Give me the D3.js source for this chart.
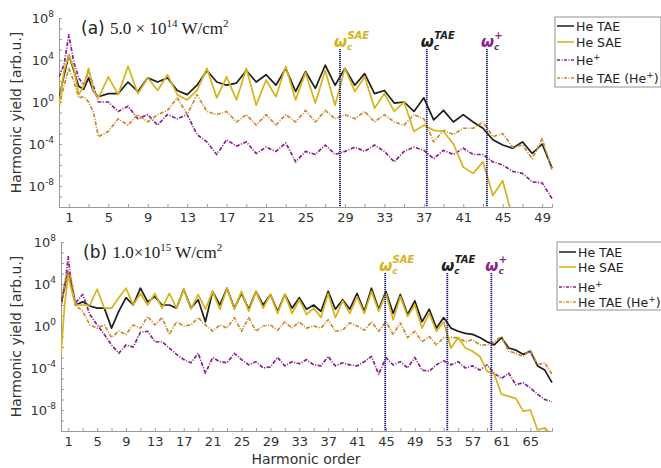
<!DOCTYPE html>
<html>
<head>
<meta charset="utf-8">
<script src="https://cdn.jsdelivr.net/npm/d3@7"></script>
<style>
  body { margin: 0; background: #fff; }
  text { font-family: "DejaVu Sans", sans-serif; fill: #333; }
</style>
</head>
<body>
<div id="chart"></div>
<script>
// harmonic orders where the yield was read (log10 of yield below)
const ordA = [0,0.5,1,1.5,2,2.5,3,3.5,4,5,6,7,8,9,10,11,12,13,14,15,16,17,18,19,20,21,22,23,24,25,26,27,28,29,30,31,32,33,34,35,36,37,38,39,40,41,42,43,44,45,46,47,48,49,50];
const ordB = [0,0.5,1,1.5,2,3,4,5,6,7,8,9,10,11,12,13,14,15,16,17,18,19,20,21,22,23,24,25,26,27,28,29,30,31,32,33,34,35,36,37,38,39,40,41,42,43,44,45,46,47,48,49,50,51,52,53,54,55,56,57,58,59,60,61,62,63,64,65,66,67,68];

// panel (a) 5.0e14 W/cm2
const tae_a = [0.3,2.5,4.5,3.0,1.5,1.2,2.3,1.0, 0.5,0.8,0.8,1.9,1.0,2.3,1.9,2.3,1.1,0.7, 1.6,3.0,1.9,1.6,1.8,3.0,1.9,2.6,1.6,3.2, 1.0,2.9,1.3,3.5,1.6,3.2,1.6,2.7,0.8,1.1, -0.1,0.0,-0.9,0.4,-1.7,-0.8,-1.9,-1.2,-1.9,-2.5, -3.6,-4.1,-4.4,-3.8,-4.9,-4.0,-6.3];
const sae_a = [-0.3,2.9,4.5,3.2,0.7,1.5,3.2,1.0, 0.4,2.4,0.7,3.4,0.8,2.3,1.1,2.6,0.7,0.2, 1.1,3.2,0.4,2.4,0.2,3.2,-0.3,2.1,0.5,3.4, 0.2,2.8,-0.1,3.0,-0.3,3.2,1.0,2.4,-0.6,0.8, -0.9,0.0,-2.8,-2.2,-2.7,-2.8,-4.0,-6.2,-6.8,-5.7, -8.9,-7.5,-11,-12,-12,-12,-12];
const ion_a = [2.4,3.5,6.4,3.8,2.3,1.6,3.0,1.5, 0.0,0.0,-0.9,-0.4,-1.6,-1.2,-2.2,-1.2,-1.6,-1.2, -3.1,-3.8,-5.0,-3.6,-4.2,-3.8,-4.9,-4.3,-4.7,-3.9, -5.7,-4.7,-5.0,-4.1,-5.0,-4.7,-4.3,-4.7,-4.1,-4.7, -5.7,-4.7,-4.3,-4.6,-5.4,-4.6,-5.0,-4.4,-5.0,-5.0, -5.7,-6.0,-6.6,-6.8,-7.6,-7.7,-9.2];
const taeIon_a = [-0.5,1.5,3.2,2.0,0.4,0.5,0.0,-1.0, -3.3,-2.8,-1.6,-2.2,-1.2,-1.9,-1.2,-0.8,0.4,-1.2, 0.7,-0.9,-1.2,-0.9,-1.9,-1.2,-2.2,-1.2,-2.2,-1.2, -1.9,-0.8,-1.9,-0.8,-1.6,-1.2,-1.6,-0.9,-1.9,-1.2, -1.9,-2.2,-1.2,-1.6,-3.8,-2.7,-3.1,-2.5,-2.5,-1.9, -3.3,-3.0,-4.3,-4.1,-5.4,-3.5,-6.5];
const cut_a = [28.5, 37.3, 43.4];

// panel (b) 1.0e15 W/cm2
const tae_b = [2.0,3.8,5.2,3.8,2.0, 2.3,1.9,1.7,1.7,-0.2,1.4,2.7,2.0,3.6,2.3, 2.8,2.0,2.0,1.7,3.5,1.7,2.5,0.4,3.3,2.0, 3.6,1.7,3.1,1.6,3.3,2.0,3.0,1.4,3.0,1.7, 2.7,1.6,2.0,1.4,3.3,1.6,2.5,1.6,3.1,1.4, 3.6,1.6,3.3,1.2,3.0,1.1,2.4,0.4,1.6,-0.2, 0.8,-0.2,-0.5,-0.7,-0.8,-1.1,-1.5,-1.8,-1.1,-2.1, -2.3,-2.7,-2.4,-3.8,-4.2,-5.4];
const sae_b = [-2.7,2.0,4.9,3.3,2.0, 2.0,2.0,3.5,1.7,1.7,2.7,3.6,2.0,3.1,2.0, 3.1,1.7,3.1,1.7,3.5,1.6,3.0,1.6,3.3,1.6, 3.6,1.6,3.3,1.4,3.3,1.7,3.0,1.2,3.0,1.2, 2.5,1.1,1.7,0.8,3.1,0.8,2.4,1.2,2.8,1.2, 3.3,1.4,3.1,0.6,2.8,0.9,2.0,-0.2,1.2,-0.5, 0.4,-2.1,-1.1,-2.1,-2.4,-2.9,-4.3,-4.6,-6.5,-6.7, -6.9,-8.1,-8.0,-9.9,-9.7,-10.4];
const ion_b = [2.0,3.6,6.6,3.6,2.2, 3.0,1.1,0.1,-0.8,-1.8,-2.6,-1.8,-2.0,-0.6,-0.5, -1.5,-1.5,-2.1,-2.7,-3.2,-3.5,-2.6,-4.5,-3.0,-3.4, -3.5,-2.6,-3.2,-3.7,-3.4,-4.0,-3.9,-3.0,-3.8,-3.4, -3.6,-3.2,-3.7,-3.8,-2.9,-3.8,-3.5,-3.7,-3.8,-3.4, -2.9,-4.6,-3.0,-3.7,-3.4,-4.0,-3.0,-4.2,-4.3,-3.7, -3.3,-3.7,-3.4,-4.0,-3.8,-4.2,-3.7,-4.5,-5.0,-4.5, -5.6,-5.4,-5.9,-6.5,-7.0,-7.2];
const taeIon_b = [2.0,3.9,5.2,4.3,2.0, 1.4,0.1,-0.2,0.1,-1.1,-0.5,-0.8,0.1,-0.2,0.9, 0.1,0.8,-0.8,0.4,0.0,0.1,0.8,0.1,-0.5,0.1, -0.2,0.8,-0.5,0.8,-0.5,0.0,0.1,-0.4,0.4,-0.2, 0.4,-0.2,0.0,-0.2,0.6,-0.5,-0.4,0.3,0.0,-0.4, 0.4,-0.5,0.4,-0.8,0.3,-1.1,-0.5,-1.5,-1.0,-1.8, -1.1,-1.1,-1.1,-1.5,-1.3,-1.8,-1.8,-1.5,-1.0,-2.4, -2.6,-2.9,-2.3,-3.7,-3.5,-4.6];
const cut_b = [44.9, 53.5, 59.6];

const seriesNames = ["He TAE", "He SAE", "He+", "He TAE (He+)"];
const yLabelDecades = [-8, -4, 0, 4, 8];

const colors = ["#1e1e1e", "#d6b316", "#8b1f8e", "#c98b2c"];
const dashes = [null, null, "4,1.5,1,1.5", "4,1.5,1,1.5"];
const cutColors = ["#d6b316", "#1e1e1e", "#8b1f8e"];
const cutSups = ["SAE", "TAE", "+"];

const W = 661, H = 468;
const svg = d3.select("#chart").append("svg")
  .attr("width", W).attr("height", H);

function drawPanel(p) {
  const x = d3.scaleLinear().domain([0, p.hMax]).range([p.x0, p.x1]);
  const y = d3.scaleLog().domain([1e-10, 1e8]).range([p.yBot, p.yTop]);
  const g = svg.append("g");

  // clip to plot box
  g.append("clipPath").attr("id", "clip" + p.id)
    .append("rect").attr("x", p.x0).attr("y", p.yTop - 2)
    .attr("width", p.x1 - p.x0 + 2).attr("height", p.yBot - p.yTop + 2);

  const oddTicks = d3.range(1, p.hMax + 1, 2);
  const xAxis = d3.axisBottom(x).tickValues(oddTicks).tickSize(-3).tickPadding(6)
    .tickFormat(d => (d - 1) % 4 === 0 ? d : "");
  g.append("g").attr("transform", `translate(0,${p.yBot})`).call(xAxis)
    .call(a => a.select(".domain").attr("stroke", "#9a9a9a"))
    .call(a => a.selectAll(".tick line").attr("stroke", "#9a9a9a"))
    .call(a => a.selectAll("text").attr("font-size", 13).attr("fill", "#333"));

  const decades = d3.range(-10, 9).map(e => Math.pow(10, e));
  const yAxis = d3.axisLeft(y).tickValues(decades).tickSize(-3).tickFormat("");
  g.append("g").attr("transform", `translate(${p.x0},0)`).call(yAxis)
    .call(a => a.select(".domain").attr("stroke", "#9a9a9a"))
    .call(a => a.selectAll(".tick line").attr("stroke", "#9a9a9a"));

  yLabelDecades.forEach(e => {
    const t = g.append("text").attr("x", p.x0 - 5).attr("y", y(Math.pow(10, e)) + 5)
      .attr("text-anchor", "end").attr("font-size", 13);
    t.append("tspan").text("10");
    t.append("tspan").attr("dy", -6).attr("font-size", 9).text(e);
  });

  g.append("text")
    .attr("transform", `translate(${21},${(p.yTop + p.yBot) / 2}) rotate(-90)`)
    .attr("text-anchor", "middle").attr("font-size", 14)
    .text("Harmonic yield  [arb.u.]");

  // spectra
  const line = d3.line().x(d => x(d[0])).y(d => y(Math.pow(10, d[1])));
  const lines = g.append("g").attr("clip-path", `url(#clip${p.id})`);
  p.series.forEach((s, i) => {
    lines.append("path")
      .datum(p.ord.map((h, j) => [h, s[j]]))
      .attr("d", line)
      .attr("fill", "none")
      .attr("stroke", colors[i])
      .attr("stroke-width", 1.7)
      .attr("stroke-linejoin", "round")
      .attr("stroke-dasharray", dashes[i]);
  });
  // SAE drawn over TAE as in the reference
  lines.selectAll("path").filter((d, i) => i === 1).raise();

  // cutoff markers
  p.cuts.forEach((c, i) => {
    const cx = x(c);
    g.append("line").attr("x1", cx).attr("x2", cx)
      .attr("y1", p.yTop + 31).attr("y2", p.yBot)
      .attr("stroke", "#1b1f7a").attr("stroke-width", 1.8)
      .attr("stroke-dasharray", "1.2,0.8");
    const t = g.append("text").attr("x", cx - 6).attr("y", p.yTop + 29)
      .attr("font-family", "DejaVu Serif, serif").attr("font-style", "italic")
      .attr("font-weight", "bold").attr("font-size", 15)
      .style("fill", cutColors[i]);
    t.append("tspan").text("ω");
    t.append("tspan").attr("dx", 0).attr("dy", 3).attr("font-size", 9).text("c");
    t.append("tspan").attr("dx", -5).attr("dy", -11).attr("font-size", 10).text(cutSups[i]);
  });

  // panel title
  const tt = g.append("text").attr("x", p.x0 + 22).attr("y", p.yTop + 16).attr("font-size", 17);
  tt.append("tspan").style("fill", "#222").text(p.tag + " ");
  tt.append("tspan").attr("font-family", "Liberation Serif, serif").style("fill", "#222").text(p.pre);
  tt.append("tspan").attr("font-family", "Liberation Serif, serif").attr("font-size", 11)
    .attr("dy", -7).style("fill", "#222").text(p.exp);
  tt.append("tspan").attr("font-family", "Liberation Serif, serif").attr("dy", 7)
    .style("fill", "#222").text(" W/cm");
  tt.append("tspan").attr("font-family", "Liberation Serif, serif").attr("font-size", 11)
    .attr("dy", -7).style("fill", "#222").text("2");

  // legend
  const lg = g.append("g").attr("transform", `translate(${p.legX},${p.legY})`);
  lg.append("rect").attr("x", 0).attr("y", 0).attr("width", 106).attr("height", p.legH)
    .attr("fill", "#fff").attr("stroke", "#777").attr("stroke-width", 0.8);
  p.legRows.forEach((ry, i) => {
    lg.append("line").attr("x1", 2).attr("x2", 19).attr("y1", ry).attr("y2", ry)
      .attr("stroke", colors[i]).attr("stroke-width", 1.5)
      .attr("stroke-dasharray", i > 1 ? "3,1.5,1,1.5" : null);
    const t = lg.append("text").attr("x", 21).attr("y", ry + 4.5).attr("font-size", 12.5)
      .style("fill", "#222");
    const nm = seriesNames[i];
    if (nm.includes("+")) {
      const parts = nm.split("+");
      t.append("tspan").text(parts[0]);
      t.append("tspan").attr("dy", -5).attr("font-size", 9).text("+");
      t.append("tspan").attr("dy", 5).text(parts[1]);
    } else {
      t.text(nm);
    }
  });
}

drawPanel({
  id: "a", tag: "(a)", pre: "5.0 × 10", exp: "14",
  x0: 59, x1: 552, yTop: 18, yBot: 207, hMax: 50, ord: ordA,
  series: [tae_a, sae_a, ion_a, taeIon_a], cuts: cut_a,
  legX: 555, legY: 17, legH: 70, legRows: [9, 25, 43, 61]
});
drawPanel({
  id: "b", tag: "(b)", pre: " 1.0×10", exp: "15",
  x0: 61, x1: 552, yTop: 242, yBot: 431, hMax: 68, ord: ordB,
  series: [tae_b, sae_b, ion_b, taeIon_b], cuts: cut_b,
  legX: 557, legY: 242, legH: 68, legRows: [10, 25, 45, 60]
});

svg.append("text").attr("x", 306).attr("y", 464).attr("text-anchor", "middle")
  .attr("font-size", 14).text("Harmonic order");
</script>
</body>
</html>
